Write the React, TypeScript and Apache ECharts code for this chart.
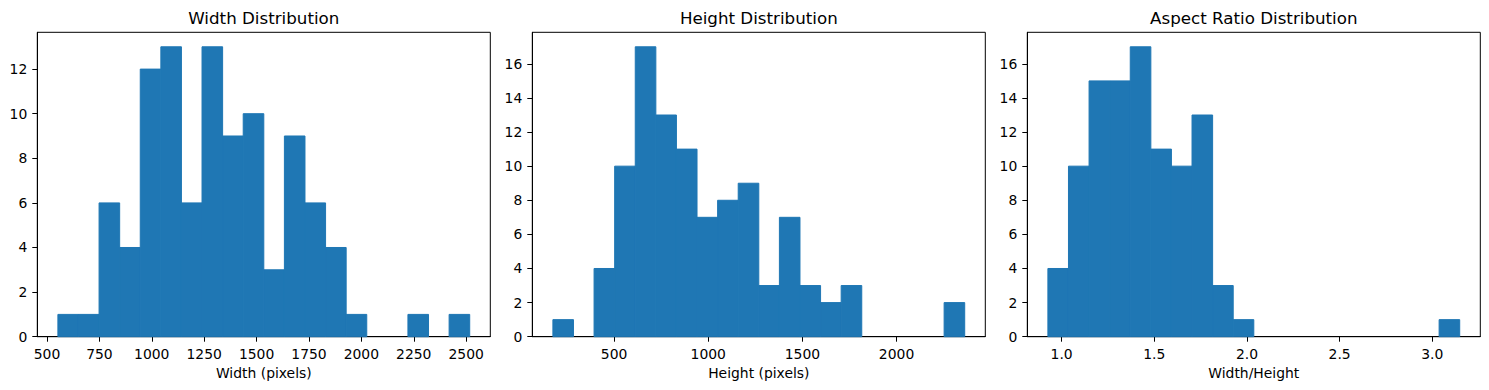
import React, { useEffect, useRef } from "react";
import * as echarts from "echarts";

// ---- Data ----
const widthRange = [552, 2517];
const widthCounts = [1, 1, 6, 4, 12, 13, 6, 13, 9, 10, 3, 9, 6, 4, 1, 0, 0, 1, 0, 1];
const widthXTicks = [500, 750, 1000, 1250, 1500, 1750, 2000, 2250, 2500];
const widthYTicks = [0, 2, 4, 6, 8, 10, 12];

const heightRange = [175, 2362];
const heightCounts = [1, 0, 4, 10, 17, 13, 11, 7, 8, 9, 3, 7, 3, 2, 3, 0, 0, 0, 0, 2];
const heightXTicks = [500, 1000, 1500, 2000];
const heightYTicks = [0, 2, 4, 6, 8, 10, 12, 14, 16];

const ratioRange = [0.926, 3.148];
const ratioCounts = [4, 10, 15, 15, 17, 11, 10, 13, 3, 1, 0, 0, 0, 0, 0, 0, 0, 0, 0, 1];
const ratioXTicks = [1.0, 1.5, 2.0, 2.5, 3.0];
const ratioYTicks = [0, 2, 4, 6, 8, 10, 12, 14, 16];

const titles = ["Width Distribution", "Height Distribution", "Aspect Ratio Distribution"];
const xNames = ["Width (pixels)", "Height (pixels)", "Width/Height"];

const BAR = "#1f77b4";
const FONT = "DejaVu Sans";

function binData(range: number[], counts: number[]) {
  const n = counts.length;
  const w = (range[1] - range[0]) / n;
  return counts.map((c, i) => [range[0] + i * w, range[0] + (i + 1) * w, c]);
}

export default function App() {
  const ref = useRef<HTMLDivElement>(null);
  useEffect(() => {
    if (!ref.current) return;
    const chart = echarts.init(ref.current, undefined, { renderer: "svg" });
    const panels = [
      { range: widthRange, counts: widthCounts, xt: widthXTicks, yt: widthYTicks, fmt: (v: number) => String(v) },
      { range: heightRange, counts: heightCounts, xt: heightXTicks, yt: heightYTicks, fmt: (v: number) => String(v) },
      { range: ratioRange, counts: ratioCounts, xt: ratioXTicks, yt: ratioYTicks, fmt: (v: number) => v.toFixed(1) },
    ];
    const lefts = [37.3, 532.3, 1027.3];
    const gw = 453;
    const top = 32.3;
    const gh = 304.4;
    const grid: any[] = [];
    const xAxis: any[] = [];
    const yAxis: any[] = [];
    const series: any[] = [];
    const title: any[] = [];
    panels.forEach((p, i) => {
      const span = p.range[1] - p.range[0];
      const xmin = p.range[0] - 0.05 * span;
      const xmax = p.range[1] + 0.05 * span;
      const ymax = Math.max(...p.counts) * 1.05;
      grid.push({
        left: lefts[i], top, width: gw, height: gh,
        show: true, borderColor: "#000", borderWidth: 1, backgroundColor: "transparent",
      });
      title.push({
        text: titles[i], left: lefts[i] + gw / 2, top: 9, textAlign: "center", padding: 0,
        textStyle: { fontFamily: FONT, fontSize: 16.7, fontWeight: "normal", color: "#000" },
      });
      xAxis.push({
        type: "value", gridIndex: i, min: xmin, max: xmax,
        name: xNames[i], nameLocation: "middle", nameGap: 28,
        nameTextStyle: { fontFamily: FONT, fontSize: 13.9, color: "#000" },
        axisLine: { show: true, lineStyle: { color: "#000", width: 1 } },
        axisTick: { show: true, length: 5, lineStyle: { color: "#000", width: 1 }, customValues: p.xt },
        axisLabel: {
          show: true, margin: 10, fontFamily: FONT, fontSize: 13.9, color: "#000",
          customValues: p.xt, formatter: (v: number) => p.fmt(v),
        },
        splitLine: { show: false },
      });
      yAxis.push({
        type: "value", gridIndex: i, min: 0, max: ymax,
        axisLine: { show: true, lineStyle: { color: "#000", width: 1 } },
        axisTick: { show: true, length: 5, lineStyle: { color: "#000", width: 1 }, customValues: p.yt },
        axisLabel: {
          show: true, margin: 10, fontFamily: FONT, fontSize: 13.9, color: "#000",
          customValues: p.yt,
        },
        splitLine: { show: false },
      });
      series.push({
        type: "custom", xAxisIndex: i, yAxisIndex: i, z: 1,
        data: binData(p.range, p.counts),
        encode: { x: [0, 1], y: 2 },
        renderItem: (params: any, api: any) => {
          const p0 = api.coord([api.value(0), api.value(2)]);
          const p1 = api.coord([api.value(1), 0]);
          const h = p1[1] - p0[1];
          if (h <= 0) return null;
          return {
            type: "rect",
            shape: { x: p0[0], y: p0[1], width: p1[0] - p0[0], height: h },
            style: { fill: BAR, stroke: BAR, lineWidth: 1 },
          };
        },
      });
    });
    chart.setOption({
      animation: false,
      backgroundColor: "#fff",
      textStyle: { fontFamily: FONT },
      title, grid, xAxis, yAxis, series,
    });
    return () => chart.dispose();
  }, []);
  return (
    <div
      ref={ref}
      style={{ position: "absolute", left: 0, top: 0, width: 1489, height: 390 }}
    />
  );
}
